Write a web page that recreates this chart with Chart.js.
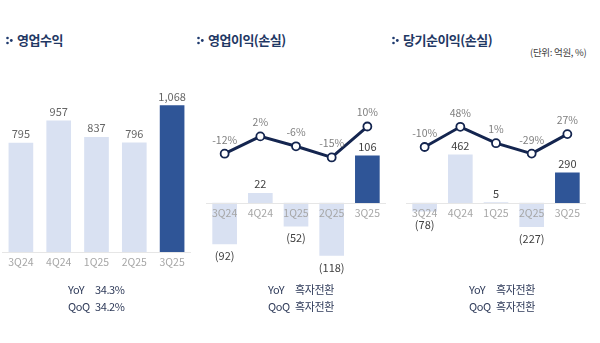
<!DOCTYPE html>
<html>
<head>
<meta charset="utf-8">
<script src="https://cdn.jsdelivr.net/npm/chart.js@4.4.1/dist/chart.umd.min.js"></script>
<style>
  body { margin: 0; background: #fff; font-family: "Noto Sans CJK KR", "Noto Sans", sans-serif; }
  #wrap { position: relative; width: 600px; height: 343px; overflow: hidden; }
  canvas { position: absolute; }
  .title { position: absolute; top: 30px; font-size: 13px; font-weight: bold; color: #1f3864; letter-spacing: -0.5px; white-space: nowrap; }
  .title svg { margin-right: 4px; vertical-align: 0px; }
  .unit { position: absolute; left: 530px; top: 45px; font-size: 9.5px; color: #404040; letter-spacing: -0.3px; white-space: nowrap; }
  .growth { position: absolute; width: 140px; font-size: 11px; color: #2e3a59; line-height: 17px; letter-spacing: -0.4px; }
  .growth div { white-space: nowrap; }
  .growth span { display: inline-block; width: 27px; }
</style>
</head>
<body>
<div id="wrap">
  <div class="title" style="left:6px"><svg width="7" height="9"><circle cx="1.5" cy="2" r="1.3" fill="#1f3a6e"/><circle cx="1.5" cy="7" r="1.3" fill="#1f3a6e"/><circle cx="5.3" cy="4.5" r="1.4" fill="#1f3a6e"/></svg>영업수익</div>
  <div class="title" style="left:197px"><svg width="7" height="9"><circle cx="1.5" cy="2" r="1.3" fill="#1f3a6e"/><circle cx="1.5" cy="7" r="1.3" fill="#1f3a6e"/><circle cx="5.3" cy="4.5" r="1.4" fill="#1f3a6e"/></svg>영업이익(손실)</div>
  <div class="title" style="left:392px"><svg width="7" height="9"><circle cx="1.5" cy="2" r="1.3" fill="#1f3a6e"/><circle cx="1.5" cy="7" r="1.3" fill="#1f3a6e"/><circle cx="5.3" cy="4.5" r="1.4" fill="#1f3a6e"/></svg>당기순이익(손실)</div>
  <div class="unit">(단위: 억원, %)</div>

  <canvas id="revChart" width="189" height="227" style="left:2px;top:50px"></canvas>
  <canvas id="opChart" width="190" height="195" style="left:201px;top:90px"></canvas>
  <canvas id="netChart" width="190" height="195" style="left:401px;top:90px"></canvas>

  <div class="growth" style="left:68px;top:281px">
    <div><span>YoY</span>34.3%</div>
    <div><span>QoQ</span>34.2%</div>
  </div>
  <div class="growth" style="left:268px;top:281px">
    <div><span>YoY</span>흑자전환</div>
    <div><span>QoQ</span>흑자전환</div>
  </div>
  <div class="growth" style="left:469px;top:281px">
    <div><span>YoY</span>흑자전환</div>
    <div><span>QoQ</span>흑자전환</div>
  </div>
</div>

<script>
const quarters = ['3Q24', '4Q24', '1Q25', '2Q25', '3Q25'];
const revenue = [795, 957, 837, 796, 1068];
const opIncome = [-92, 22, -52, -118, 106];
const opMargin = [-12, 2, -6, -15, 10];
const netIncome = [-78, 462, 5, -227, 290];
const netMargin = [-10, 48, 1, -29, 27];

const LIGHT = '#d9e1f2';
const DARK = '#2f5597';
const NAVY = '#14254f';
const FONT = '"Noto Sans CJK KR", "Noto Sans", sans-serif';

function barColors(n) {
  return Array.from({ length: n }, (_, i) => i === n - 1 ? DARK : LIGHT);
}

function fmtValue(v) {
  const s = Math.abs(v).toLocaleString('en-US');
  return v < 0 ? `(${s})` : s;
}

// value labels above/below bars and above line points
const valueLabels = {
  id: 'valueLabels',
  afterDatasetsDraw(chart) {
    const ctx = chart.ctx;
    const zeroY = chart.scales.y.getPixelForValue(0);
    ctx.save();
    ctx.textAlign = 'center';
    ctx.textBaseline = 'middle';
    chart.data.datasets.forEach((ds, i) => {
      const meta = chart.getDatasetMeta(i);
      meta.data.forEach((el, j) => {
        const v = ds.data[j];
        if (ds.type === 'line') {
          ctx.font = `10.5px ${FONT}`;
          ctx.fillStyle = '#7f7f7f';
          ctx.fillText(v + '%', el.x, el.y - 14);
        } else {
          ctx.font = `11px ${FONT}`;
          ctx.fillStyle = chart.canvas.id === 'revChart' ? '#666' : '#404040';
          let y;
          if (v >= 0) {
            y = el.y - 9;
          } else {
            y = Math.max(el.y + 12, zeroY + 22);
          }
          ctx.fillText(fmtValue(v), el.x, y);
        }
      });
    });
    ctx.restore();
  }
};

function xAxis() {
  return {
    position: { y: 0 },
    grid: { display: false, drawTicks: false },
    border: { display: true, color: '#e6e6e6', width: 1, z: 1 },
    ticks: { color: '#a6a6a6', font: { family: FONT, size: 10.5 }, padding: 4, z: 1 },
    afterFit(scale) { scale.height = 0; }
  };
}

function makeChart(id, bars, line, yMin, yMax, y1Min, y1Max) {
  const datasets = [];
  if (line) {
    datasets.push({
      type: 'line',
      data: line,
      yAxisID: 'y1',
      borderColor: NAVY,
      borderWidth: 3,
      pointRadius: 4,
      pointBorderWidth: 1.8,
      pointBackgroundColor: '#fff',
      pointBorderColor: NAVY,
      tension: 0,
      order: 0
    });
  }
  datasets.push({
    type: 'bar',
    data: bars,
    yAxisID: 'y',
    backgroundColor: barColors(bars.length),
    barThickness: 24,
    order: 1
  });

  const scales = {
    x: xAxis(),
    y: { display: false, min: yMin, max: yMax }
  };
  if (line) scales.y1 = { display: false, min: y1Min, max: y1Max };

  return new Chart(document.getElementById(id), {
    data: { labels: quarters, datasets },
    options: {
      responsive: false,
      animation: false,
      layout: { padding: { top: 0, bottom: 25, left: 0, right: 0 } },
      plugins: { legend: { display: false }, tooltip: { enabled: false } },
      scales
    },
    plugins: [valueLabels]
  });
}

makeChart('revChart', revenue, null, 0, 1474);
makeChart('opChart', opIncome, opMargin, -128.3, 241.3, -97.97, 34.84);
makeChart('netChart', netIncome, netMargin, -546, 1028, -335, 137.2);
</script>
</body>
</html>
